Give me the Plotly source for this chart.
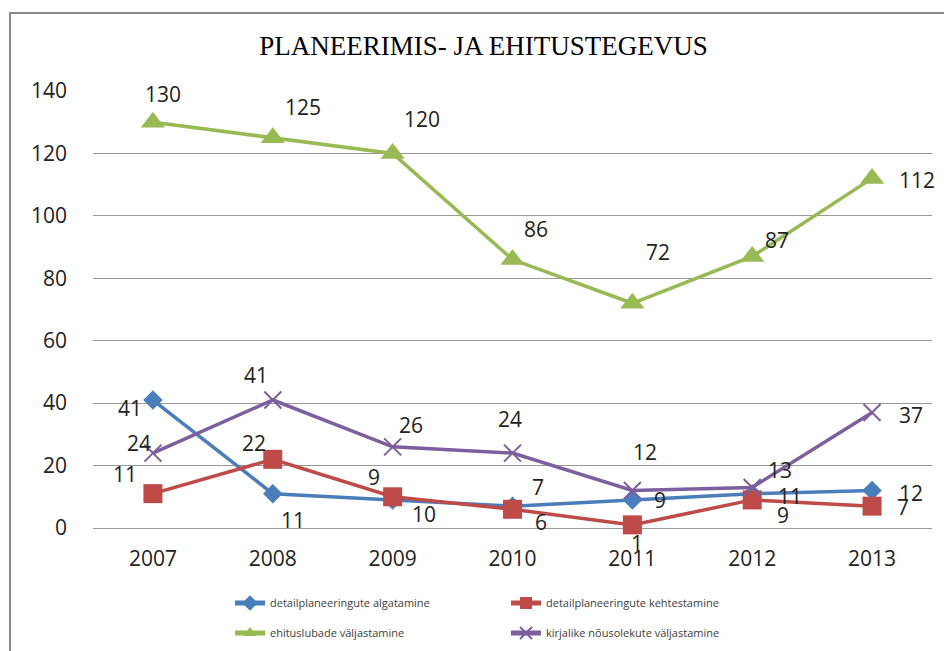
import plotly.graph_objects as go

years = ["2007", "2008", "2009", "2010", "2011", "2012", "2013"]
algatamine = [41, 11, 9, 7, 9, 11, 12]
kehtestamine = [11, 22, 10, 6, 1, 9, 7]
ehitusload = [130, 125, 120, 86, 72, 87, 112]
nousolekud = [24, 41, 26, 24, 12, 13, 37]

series_names = [
    "detailplaneeringute algatamine",
    "detailplaneeringute kehtestamine",
    "ehituslubade väljastamine",
    "kirjalike nõusolekute väljastamine",
]
title_text = "PLANEERIMIS- JA EHITUSTEGEVUS"

# styling (not data)
colors = ["#4A7EBB", "#BE4B48", "#98B954", "#7D5FA0"]
symbols = ["diamond", "square", "triangle-up", "x-thin"]
msizes = [15, 19, 21, 17]
# label pixel offsets (dx, dy with dy positive = down on screen)
offsets = [
    [(-23, 8), (20, 26), (-19, -23), (25, -19), (28, 0), (38, 2), (39, 2)],
    [(-28, -20), (-19, -16), (31, 17), (28, 13), (5, 18), (31, 15), (31, 1)],
    [(10, -28), (30, -31), (29, -34), (23, -31), (26, -51), (25, -16), (45, 2)],
    [(-14, -10), (-17, -25), (18, -22), (-3, -34), (13, -39), (28, -17), (39, 2)],
]

all_series = [algatamine, kehtestamine, ehitusload, nousolekud]
legend_ids = ["legend", "legend", "legend2", "legend2"]

W, H = 952, 651
PAGE = 8  # page body margin offset in the screenshot

fig = go.Figure()
for i, vals in enumerate(all_series):
    marker = dict(symbol=symbols[i], size=msizes[i], color=colors[i])
    if symbols[i] == "x-thin":
        marker["line"] = dict(color=colors[i], width=2)
    fig.add_trace(go.Scatter(
        x=years, y=vals, name=series_names[i], mode="lines+markers",
        line=dict(color=colors[i], width=3.5), marker=marker,
        cliponaxis=False, legend=legend_ids[i],
    ))

annotations = []
for i, vals in enumerate(all_series):
    for j, v in enumerate(vals):
        dx, dy = offsets[i][j]
        annotations.append(dict(
            x=j, y=v, xref="x", yref="y", text=str(v), showarrow=False,
            xshift=dx, yshift=-dy, xanchor="center", yanchor="middle",
            font=dict(family="Open Sans", size=21, color="#222222"),
        ))

legend_font = dict(family="Open Sans", size=11, color="#404040")

# screen-pixel layout targets
pl, pr, pt, pb = 93, 932, 91, 528

fig.update_layout(
    width=W, height=H,
    margin=dict(l=pl - PAGE, r=W - (pr - PAGE), t=pt - PAGE, b=H - (pb - PAGE),
                autoexpand=False),
    paper_bgcolor="white", plot_bgcolor="white",
    annotations=annotations,
    title=dict(text=title_text, xref="container", yref="container",
               x=(483.5 - PAGE) / W, y=1 - (46 - PAGE) / H,
               xanchor="center", yanchor="middle",
               font=dict(family="Liberation Serif", size=27, color="#000000")),
    xaxis=dict(type="category", range=[-0.5, 6.5], showgrid=False, showline=False,
               zeroline=False, ticks="", ticklabelstandoff=16, automargin=False,
               tickfont=dict(family="Open Sans", size=21, color="#222222")),
    yaxis=dict(range=[0, 140], dtick=20, showgrid=True, gridcolor="#9a9a9a",
               gridwidth=1, zeroline=True, zerolinecolor="#9a9a9a", zerolinewidth=1,
               showline=False, ticks="", ticklabelstandoff=25, automargin=False,
               tickfont=dict(family="Open Sans", size=21, color="#222222")),
    legend=dict(orientation="h", xref="container", yref="container",
                x=(230 - PAGE) / W, y=1 - (603 - PAGE) / H,
                xanchor="left", yanchor="middle", entrywidth=231, entrywidthmode="pixels",
                font=legend_font, bgcolor="rgba(0,0,0,0)", itemsizing="constant"),
    legend2=dict(orientation="h", xref="container", yref="container",
                 x=(230 - PAGE) / W, y=1 - (633 - PAGE) / H,
                 xanchor="left", yanchor="middle", entrywidth=231, entrywidthmode="pixels",
                 font=legend_font, bgcolor="rgba(0,0,0,0)", itemsizing="constant"),
    showlegend=True,
    shapes=[dict(type="rect", xref="paper", yref="paper",
                 x0=(10 - pl) / (pr - pl), x1=1.2, y0=-0.6, y1=(pb - 13) / (pb - pt),
                 line=dict(color="#8a8a8a", width=2), layer="below")],
)

fig.write_html("out.html")
